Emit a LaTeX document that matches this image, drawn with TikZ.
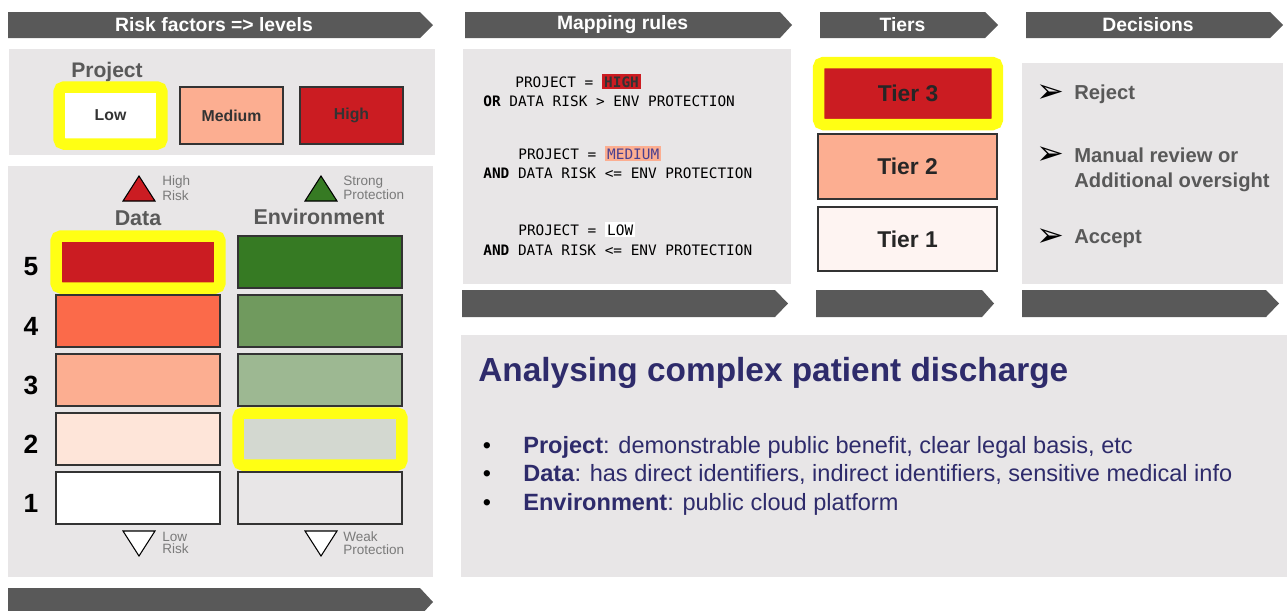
\documentclass[tikz,border=0pt]{standalone}
\usepackage{fontspec}
\setmainfont{Liberation Sans}
\newfontfamily\rulefont{DejaVu Sans Mono}
\newfontfamily\symfont{DejaVu Sans}
\usetikzlibrary{positioning}
\definecolor{bargray}{HTML}{595959}
\definecolor{panelgray}{HTML}{E8E6E7}
\definecolor{hiyellow}{HTML}{FFFF14}
\definecolor{rsk5}{HTML}{CB1C22}
\definecolor{rsk4}{HTML}{FB6A4A}
\definecolor{rsk3}{HTML}{FCAE91}
\definecolor{rsk2}{HTML}{FEE5D9}
\definecolor{env5}{HTML}{367A23}
\definecolor{env4}{HTML}{709A5E}
\definecolor{env3}{HTML}{9DB892}
\definecolor{env2}{HTML}{D3D8D0}
\definecolor{env1}{HTML}{E8E6E7}
\definecolor{tier1}{HTML}{FEF4F2}
\definecolor{navy}{HTML}{2E2B6B}
\definecolor{medtxt}{HTML}{4A3F8F}
\definecolor{txtgray}{HTML}{595959}
\definecolor{smallgray}{HTML}{7A7A7A}

\newcommand{\chevbar}[7]{% name, x left, x notch, x tip, y top, y bottom, text
  \fill[bargray] (#2,#5) -- (#3,#5) -- (#4,{(#5+#6)/2}) -- (#3,#6) -- (#2,#6) -- cycle;
  \node[bartext] (#1) at ({(#2+#3)/2},{(#5+#6)/2}) {#7};}
\newcommand{\hlword}[2]{{\setlength{\fboxsep}{1.2pt}\colorbox{#1}{#2}}}

\begin{document}
\begin{tikzpicture}[x=0.02cm,y=-0.02cm,
    bartext/.style={text=white, font=\bfseries\fontsize{11}{13}\selectfont},
    lvlbox/.style={draw=black!80, line width=0.8pt, inner sep=0pt},
    hilite/.style={draw=hiyellow, line width=0.23cm, rounded corners=0.1cm, inner sep=0pt},
    lvlword/.style={text=black!80, font=\bfseries\fontsize{9}{11}\selectfont},
    heading/.style={text=txtgray, font=\bfseries\fontsize{12.2}{14}\selectfont},
    tinylabel/.style={text=smallgray, font=\fontsize{7.7}{7}\selectfont, align=left, anchor=west, inner sep=0pt},
    digit/.style={font=\bfseries\fontsize{15}{17}\selectfont},
    rule/.style={font=\rulefont\fontsize{8.2}{10}\selectfont, anchor=base west, inner sep=0pt},
    tierword/.style={text=black!85, font=\bfseries\fontsize{13}{15}\selectfont},
    decision/.style={text=txtgray, font=\bfseries\fontsize{11.5}{14}\selectfont, anchor=base west, inner sep=0pt},
    bullettext/.style={text=navy, font=\fontsize{13.4}{16}\selectfont, anchor=base west, inner sep=0pt}]
  \useasboundingbox (0,0) rectangle (1287,610);
  \clip (0,0) rectangle (1287,610);

  % grey panels
  \fill[panelgray] (9,49) rectangle (435,155);
  \fill[panelgray] (8,166) rectangle (433,577);
  \fill[panelgray] (463,49) rectangle (791,284);
  \fill[panelgray] (1022,63) rectangle (1283,284);
  \fill[panelgray] (461,335) rectangle (1290,577);

  % banners
  \chevbar{hdrisk}{8}{420}{433}{12}{38}{Risk factors => levels}
  \chevbar{hdmap}{465}{780}{792}{12}{38}{Mapping rules}
  \chevbar{hdtier}{820}{985}{998}{12}{38}{Tiers}
  \chevbar{hddec}{1026}{1270}{1283}{12}{38}{Decisions}
  \chevbar{ftmap}{462}{775}{788}{290}{317}{}
  \chevbar{fttier}{816}{982}{994}{290}{317}{}
  \chevbar{ftdec}{1022}{1266}{1279}{290}{317}{}
  \chevbar{ftrisk}{8}{420}{433}{588}{616}{}

  % project level
  \node[heading, font=\bfseries\fontsize{12}{14}\selectfont] (projlbl) at (107,72) {Project};
  \node[hilite, fill=white, minimum width=2.06cm, minimum height=1.14cm] (plow) at (110.5,115.5) {};
  \node[lvlbox, fill=rsk3, minimum width=2.06cm, minimum height=1.14cm] (pmed) at (231.5,115.5) {};
  \node[lvlbox, fill=rsk5, minimum width=2.06cm, minimum height=1.14cm] (phigh) at (351.5,115.5) {};
  \node[lvlword] at (plow) {Low};
  \node[lvlword] at (pmed) {Medium};
  \node[lvlword] at (phigh) {High};

  % data and environment levels
  \node[heading] (datlbl) at (138,218) {Data};
  \node[heading] (envlbl) at (319,217) {Environment};
  \foreach \lv/\dc/\ds/\ec/\es in {5/rsk5/hilite/env5/lvlbox, 4/rsk4/lvlbox/env4/lvlbox,
      3/rsk3/lvlbox/env3/lvlbox, 2/rsk2/lvlbox/env2/hilite, 1/white/lvlbox/env1/lvlbox}{
    \node[\ds, fill=\dc, minimum width=3.28cm, minimum height=1.04cm] (dat\lv) at (138,{262+(5-\lv)*59}) {};
    \node[\es, fill=\ec, minimum width=3.28cm, minimum height=1.04cm] (env\lv) at (320,{262+(5-\lv)*59}) {};
    \node[digit] (num\lv) at (31,{267+(5-\lv)*59}) {\lv};
  }
  \draw[fill=rsk5, line width=0.6pt] (123,201) -- (155,201) -- (139,176) -- cycle;
  \draw[fill=env5, line width=0.6pt] (305,201) -- (337,201) -- (321,176) -- cycle;
  \draw[fill=white, line width=0.6pt] (123,531) -- (155,531) -- (139,556) -- cycle;
  \draw[fill=white, line width=0.6pt] (305,531) -- (337,531) -- (321,556) -- cycle;
  \node[tinylabel] (hirisk) at (162,188) {High\\Risk};
  \node[tinylabel] (strprot) at (343,188) {Strong\\Protection};
  \node[tinylabel] (lorisk) at (162,543) {Low\\Risk};
  \node[tinylabel] (wkprot) at (343,543) {Weak\\Protection};

  % mapping rules
  \node[rule] (rule1a) at (515,87) {PROJECT = \hlword{rsk5}{\textcolor{black!80}{\textbf{HIGH}}}};
  \node[rule] (rule1b) at (483,106) {\textbf{OR} DATA RISK > ENV PROTECTION};
  \node[rule] (rule2a) at (518,159) {PROJECT = \hlword{rsk3}{\textcolor{medtxt}{MEDIUM}}};
  \node[rule] (rule2b) at (483,178) {\textbf{AND} DATA RISK <= ENV PROTECTION};
  \node[rule] (rule3a) at (518,235) {PROJECT = \hlword{white}{LOW}};
  \node[rule] (rule3b) at (483,255) {\textbf{AND} DATA RISK <= ENV PROTECTION};

  % tiers
  \node[hilite, fill=rsk5, minimum width=3.58cm, minimum height=1.24cm] (tier3) at (908,93.5) {};
  \node[lvlbox, fill=rsk3, minimum width=3.58cm, minimum height=1.30cm] (tier2) at (907.5,166.5) {};
  \node[lvlbox, fill=tier1, minimum width=3.58cm, minimum height=1.28cm] (tier1) at (907.5,239) {};
  \node[tierword] at (tier3) {Tier 3};
  \node[tierword] at (tier2) {Tier 2};
  \node[tierword] at (tier1) {Tier 1};

  % decisions
  \foreach \yy/\nm in {94/a, 156/b, 238/c}
    \node[font=\symfont\fontsize{19}{19}\selectfont, inner sep=0pt] (arr\nm) at (1050,\yy) {➢};
  \node[decision] (reject) at (1074,99) {Reject};
  \node[decision] (manual) at (1074,162) {Manual review or};
  \node[decision] (addover) at (1074,187) {Additional oversight};
  \node[decision] (accept) at (1074,243) {Accept};

  % example case
  \node[text=navy, font=\bfseries\fontsize{19}{22}\selectfont, anchor=base west, inner sep=0pt] (case) at (478,381) {Analysing complex patient discharge};
  \foreach \yy/\nm in {453/a, 481/b, 510/c}
    \node[font=\fontsize{13.3}{16}\selectfont, anchor=base, inner sep=0pt] (dot\nm) at (487,\yy) {\textbullet};
  \node[bullettext] (itproj) at (523,453) {\textbf{Project}: demonstrable public benefit, clear legal basis, etc};
  \node[bullettext] (itdata) at (523,481) {\textbf{Data}: has direct identifiers, indirect identifiers, sensitive medical info};
  \node[bullettext] (itenv) at (523,510) {\textbf{Environment}: public cloud platform};
\end{tikzpicture}
\end{document}
